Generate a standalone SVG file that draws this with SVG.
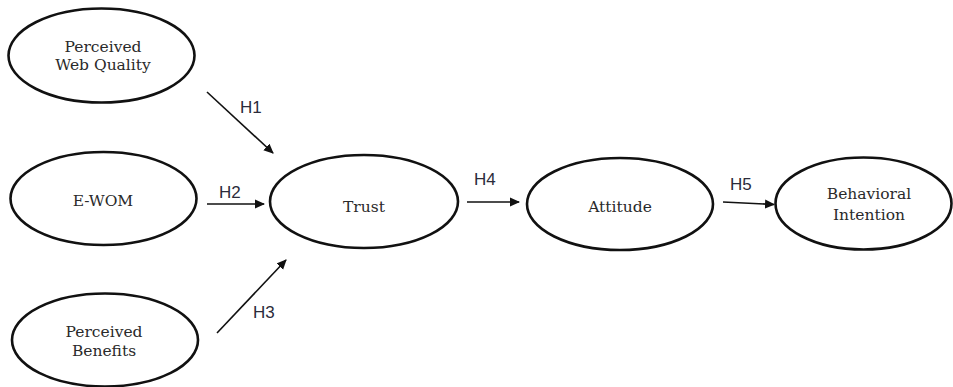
<svg xmlns="http://www.w3.org/2000/svg" width="953" height="387" viewBox="0 0 953 387">
  <defs>
    <marker id="arrow" viewBox="0 0 10 10" refX="9" refY="5" markerWidth="10" markerHeight="10" markerUnits="userSpaceOnUse" orient="auto">
      <path d="M0,0.5 L10,5 L0,9.5 Z" fill="#111"/>
    </marker>
  </defs>
  <style>
    .node ellipse { fill: #fff; stroke: #111; stroke-width: 2.6; }
    .node text { font-family: "DejaVu Serif", "Liberation Serif", serif; font-size: 15.5px; fill: #2a2a2a; text-anchor: middle; }
    .edge { stroke: #111; stroke-width: 1.6; fill: none; marker-end: url(#arrow); }
    .hlabel { font-family: "Liberation Sans", Arial, sans-serif; font-size: 17px; fill: #2b2b3a; }
  </style>
  <rect width="953" height="387" fill="#fff"/>

  <g id="pwq" class="node">
    <ellipse cx="101.5" cy="55.5" rx="93" ry="47"/>
    <text x="103" y="52">Perceived</text>
    <text x="103" y="70">Web Quality</text>
  </g>
  <g id="ewom" class="node">
    <ellipse cx="103.5" cy="198.5" rx="93" ry="46.5"/>
    <text x="103" y="206">E-WOM</text>
  </g>
  <g id="pb" class="node">
    <ellipse cx="105" cy="340" rx="93" ry="46.5"/>
    <text x="104" y="337">Perceived</text>
    <text x="104" y="356">Benefits</text>
  </g>
  <g id="trust" class="node">
    <ellipse cx="364" cy="201.5" rx="94" ry="46.5"/>
    <text x="364" y="212">Trust</text>
  </g>
  <g id="attitude" class="node">
    <ellipse cx="620" cy="204" rx="93" ry="46"/>
    <text x="620" y="212">Attitude</text>
  </g>
  <g id="bi" class="node">
    <ellipse cx="863.5" cy="203.5" rx="88" ry="46"/>
    <text x="869" y="199">Behavioral</text>
    <text x="869" y="220">Intention</text>
  </g>

  <g id="connectors">
    <line class="edge" x1="207" y1="92" x2="273" y2="153"/>
    <line class="edge" x1="207" y1="204" x2="264" y2="204"/>
    <line class="edge" x1="217" y1="333" x2="286" y2="260"/>
    <line class="edge" x1="467" y1="202" x2="519" y2="202"/>
    <line class="edge" x1="723" y1="202" x2="774" y2="204.5"/>
    <text class="hlabel" x="240" y="113">H1</text>
    <text class="hlabel" x="219" y="198">H2</text>
    <text class="hlabel" x="253" y="318">H3</text>
    <text class="hlabel" x="474" y="185">H4</text>
    <text class="hlabel" x="730" y="190">H5</text>
  </g>
</svg>
